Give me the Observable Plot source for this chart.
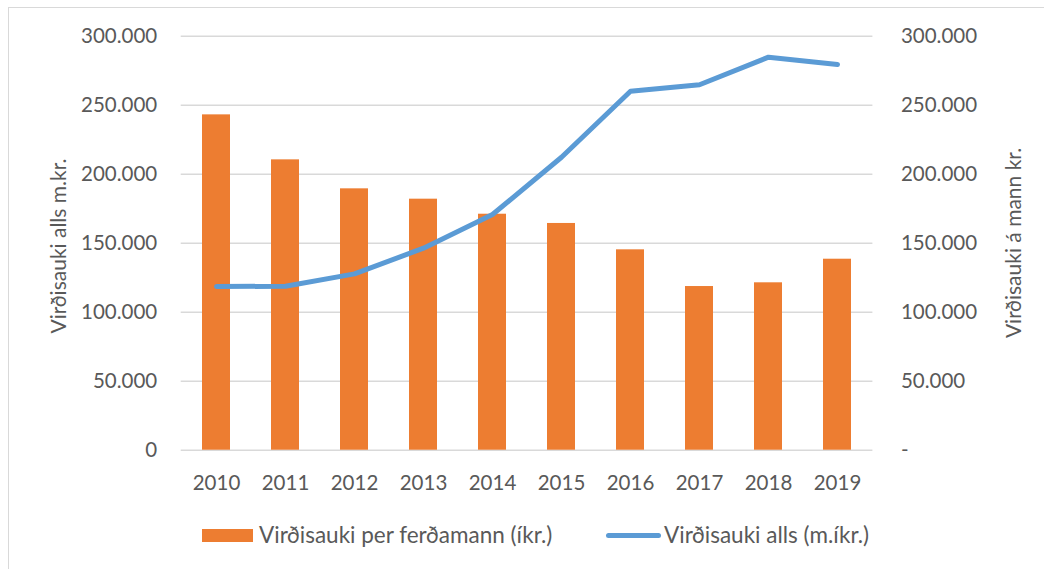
<!DOCTYPE html>
<html>
<head>
<meta charset="utf-8">
<script src="https://cdn.jsdelivr.net/npm/d3@7"></script>
<script src="https://cdn.jsdelivr.net/npm/@observablehq/plot@0.6"></script>
<style>
  html, body { margin: 0; padding: 0; background: #fff; }
  #wrap { position: relative; width: 1044px; height: 569px; overflow: hidden; font-family: Lato, "Open Sans", sans-serif; color: #595959; }
  #frame { position: absolute; left: 8px; top: 7px; width: 1100px; height: 600px; border: 1.5px solid #d9d9d9; box-sizing: border-box; }
  #chart { position: absolute; left: 0; top: 0; }
  .ytitle { position: absolute; font-size: 21px; white-space: nowrap; transform: translate(-50%, -50%) rotate(-90deg); }
  .leg { position: absolute; font-size: 22.5px; white-space: nowrap; line-height: 1; }
</style>
</head>
<body>
<div id="wrap">
  <div id="frame"></div>
  <div id="chart"></div>
  <div class="ytitle" style="left:57px; top:246px;">Virðisauki alls m.kr.</div>
  <div class="ytitle" style="left:1012px; top:243px;">Virðisauki á mann kr.</div>
  <div id="legend"></div>
</div>
<script>
const years = ["2010", "2011", "2012", "2013", "2014", "2015", "2016", "2017", "2018", "2019"];
const perTourist = [243000, 210400, 189400, 181900, 171000, 164300, 145200, 118600, 121300, 138400];
const total = [118600, 118800, 127800, 146400, 170800, 212300, 260100, 264800, 284800, 279500];
const yTicks = [0, 50000, 100000, 150000, 200000, 250000, 300000];
const seriesNames = ["Virðisauki per ferðamann (íkr.)", "Virðisauki alls (m.íkr.)"];
const colors = ["#ED7D31", "#5B9BD5"];

const rows = years.map((y, i) => ({year: y, perTourist: perTourist[i], total: total[i]}));
const fmt = d => d3.format(",")(d).replace(/,/g, ".");

const chart = Plot.plot({
  width: 1044,
  height: 505,
  marginLeft: 180.7,
  marginRight: 171.6,
  marginTop: 35.7,
  marginBottom: 55.3,
  style: {fontFamily: "Lato, 'Open Sans', sans-serif", fontSize: "20.5px", color: "#595959", background: "transparent", overflow: "visible"},
  x: {domain: years, paddingInner: 0.6, paddingOuter: 0.3, align: 0.5},
  y: {domain: [0, 300000]},
  marks: [
    Plot.gridY(yTicks, {stroke: "#d9d9d9", strokeOpacity: 1, strokeWidth: 1.5}),
    Plot.barY(rows, {x: "year", y: "perTourist", fill: colors[0]}),
    Plot.line(rows, {x: "year", y: "total", stroke: colors[1], strokeWidth: 5, strokeLinecap: "round", strokeLinejoin: "round"}),
    Plot.axisX({tickSize: 0, tickPadding: 25, label: null, fill: "#595959"}),
    Plot.axisY({anchor: "left", ticks: yTicks, tickSize: 0, tickPadding: 24, tickFormat: fmt, label: null, fill: "#595959"}),
    Plot.axisY({anchor: "right", ticks: yTicks, tickSize: 0, tickPadding: 28, tickFormat: d => d === 0 ? "-" : fmt(d), label: null, fill: "#595959"})
  ]
});
document.getElementById("chart").appendChild(chart);

const leg = document.getElementById("legend");
leg.innerHTML = `
  <div style="position:absolute; left:202px; top:529px; width:51px; height:13px; background:${colors[0]};"></div>
  <div class="leg" style="left:259px; top:524px;">${seriesNames[0]}</div>
  <div style="position:absolute; left:606px; top:533px; width:55px; height:5px; border-radius:3px; background:${colors[1]};"></div>
  <div class="leg" style="left:664px; top:524px;">${seriesNames[1]}</div>
`;
</script>
</body>
</html>
